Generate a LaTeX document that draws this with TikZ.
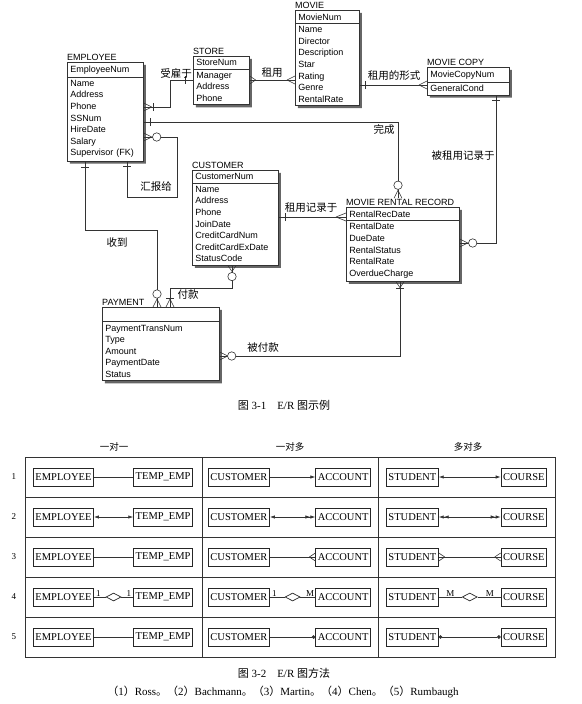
\documentclass[tikz,border=0pt]{standalone}
\usepackage{fontspec}
\setmainfont{Liberation Serif}
\newfontfamily\erfont{Liberation Sans}
\newfontfamily\cjk{Noto Sans CJK SC}
\newcommand\zh[1]{{\cjk #1}}
\usetikzlibrary{arrows.meta,positioning,calc,shapes.multipart,shapes.geometric,shadows}
\tikzset{
  entity/.style ={rectangle split,rectangle split parts=2,draw=black!80,fill=white,
                  line width=0.7pt,inner xsep=3pt,inner ysep=2.8pt,align=left,anchor=north west,
                  font=\erfont\fontsize{9}{11.6}\selectfont,
                  drop shadow={shadow xshift=2.6pt,shadow yshift=-2.6pt,fill=black!60,opacity=1}},
  ename/.style  ={font=\erfont\fontsize{9}{10}\selectfont,inner xsep=0pt,inner ysep=1pt,anchor=south west},
  rel/.style    ={draw=black!80,line width=0.6pt},
  rlabel/.style ={font=\cjk\fontsize{10.5}{10.5}\selectfont,inner sep=0pt},
  pics/crowfoot/.style={code={\draw[rel] (-#1,0) -- (0,-4) (-#1,0) -- (0,4);}},
  pics/crowfoot/.default=8,
  pics/onebar/.style={code={\draw[rel] (-#1,-4) -- (-#1,4);}},
  pics/zeroring/.style={code={\draw[rel,fill=white] (-#1,0) circle[radius=4.2];}},
  tbox/.style   ={draw=black!85,line width=0.9pt,font=\fontsize{10.5}{10.5}\selectfont,
                  minimum height=18pt,inner xsep=2pt,inner ysep=0pt},
  tabline/.style={draw=black!80,line width=0.7pt},
  thead/.style  ={font=\cjk\fontsize{9.5}{10}\selectfont,inner sep=0pt},
  rnum/.style   ={font=\fontsize{9}{10}\selectfont,inner sep=0pt},
  card/.style   ={font=\fontsize{9}{9}\selectfont,inner sep=0.5pt},
  rhomb/.style  ={diamond,draw=black!85,line width=0.7pt,minimum width=15pt,minimum height=8pt,inner sep=0pt},
  caption/.style={font=\fontsize{11}{12}\selectfont,inner sep=0pt},
  ahead/.tip={Latex[length=5pt,width=3.4pt]},
  rdot/.tip={Circle[length=3.6pt]},
}
\begin{document}
\begin{tikzpicture}[x=1pt,y=-1pt]
  \useasboundingbox (0,0) rectangle (581,704);
  % E/R example
  \node[entity,text width=70pt] (employee) at (67,62)
    {EmployeeNum\nodepart{two}Name\\Address\\Phone\\SSNum\\HireDate\\Salary\\Supervisor (FK)};
  \node[entity,text width=50pt] (store) at (193,56)
    {StoreNum\nodepart{two}Manager\\Address\\Phone};
  \node[entity,text width=58pt] (movie) at (295,10)
    {MovieNum\nodepart{two}Name\\Director\\Description\\Star\\Rating\\Genre\\RentalRate};
  \node[entity,text width=76pt] (mcopy) at (427,67)
    {MovieCopyNum\nodepart{two}GeneralCond};
  \node[entity,text width=80pt] (customer) at (192,170)
    {CustomerNum\nodepart{two}Name\\Address\\Phone\\JoinDate\\CreditCardNum\\CreditCardExDate\\StatusCode};
  \node[entity,text width=107pt] (rental) at (346,207)
    {RentalRecDate\nodepart{two}RentalDate\\DueDate\\RentalStatus\\RentalRate\\OverdueCharge};
  \node[entity,text width=111pt] (payment) at (102,307)
    {\vphantom{Ay}\nodepart{two}PaymentTransNum\\Type\\Amount\\PaymentDate\\Status};
  \foreach \n/\t in {employee/EMPLOYEE,store/STORE,movie/MOVIE,mcopy/MOVIE COPY,
                     customer/CUSTOMER,rental/MOVIE RENTAL RECORD,payment/PAYMENT}
     \node[ename] (\n-name) at (\n.north west) {\t};
  % relationships
  \draw[rel] (employee.east |- 0,107) pic[rotate=180]{crowfoot} pic[rotate=180]{onebar=10}
     -| (170,80) -- (store.west |- 0,80) pic{onebar=8};
  \draw[rel] (store.east |- 0,80) pic[rotate=180]{crowfoot=6} -- (movie.west |- 0,80) pic{crowfoot};
  \draw[rel] (movie.east |- 0,85) pic[rotate=180]{onebar=6} -- (mcopy.west |- 0,85) pic{crowfoot};
  \draw[rel] (employee.east |- 0,122) pic[rotate=180]{onebar=7}
     -| (rental-name.north -| 398,0) pic[rotate=-90]{crowfoot} pic[rotate=-90]{zeroring=13};
  \draw[rel] (employee.east |- 0,137) pic[rotate=180]{crowfoot} pic[rotate=180]{zeroring=13}
     -| (177,197) -| (employee.south -| 127,0) pic[rotate=90]{onebar=5};
  \draw[rel] (employee.south -| 85,0) pic[rotate=90]{onebar=6}
     |- (157,230) -- (payment.north -| 157,0) pic[rotate=-90]{crowfoot} pic[rotate=-90]{zeroring=13};
  \draw[rel] (customer.south -| 232,0) pic[rotate=90]{crowfoot=6} pic[rotate=90]{zeroring=11}
     |- (170,288) -- (payment.north -| 170,0) pic[rotate=-90]{crowfoot} pic[rotate=-90]{onebar=9};
  \draw[rel] (customer.east |- 0,217) pic[rotate=180]{onebar=7} -- (rental.west |- 0,217) pic{crowfoot=10};
  \draw[rel] (mcopy.south -| 496,0) pic[rotate=90]{onebar=5}
     |- (rental.east |- 0,243) pic[rotate=180]{crowfoot} pic[rotate=180]{zeroring=13};
  \draw[rel] (rental.south -| 400,0) pic[rotate=90]{crowfoot=6} pic[rotate=90]{onebar=7}
     |- (payment.east |- 0,356) pic[rotate=180]{crowfoot} pic[rotate=180]{zeroring=12};
  \foreach \t/\x/\y [count=\i] in {受雇于/176/73,租用/272/73,租用的形式/394/76,完成/384/129,
        汇报给/156/187,收到/117/243,付款/188/295,租用记录于/311/208,被租用记录于/463/156,被付款/263/348}
     \node[rlabel] (lab\i) at (\x,\y) {\t};
  \node[caption] (cap1) at (284,405) {\zh{图} 3-1\quad E/R \zh{图示例}};
  % notation table
  \draw[tabline] (25,457) rectangle (555,657);
  \foreach \y in {497,537,577,617} \draw[tabline] (25,\y) -- (555,\y);
  \foreach \x in {202,378} \draw[tabline] (\x,457) -- (\x,657);
  \node[thead] (h1) at (114,447) {一对一};
  \node[thead] (h2) at (290,447) {一对多};
  \node[thead] (h3) at (468,447) {多对多};
  \foreach \r/\y in {1/477,2/517,3/557,4/597,5/637}{
     \node[rnum] (n\r) at (14,\y) {\r};
     \node[tbox,anchor=west] (emp\r) at (33,\y) {EMPLOYEE};
     \node[tbox,anchor=east] (tmp\r) at (193,\y) {TEMP\_EMP};
     \node[tbox,anchor=west] (cus\r) at (208,\y) {CUSTOMER};
     \node[tbox,anchor=east] (acc\r) at (371,\y) {ACCOUNT};
     \node[tbox,anchor=west] (stu\r) at (386,\y) {STUDENT};
     \node[tbox,anchor=east] (crs\r) at (547,\y) {COURSE};
  }
  % (1) Ross
  \draw[tabline] (emp1) -- (tmp1);
  \draw[tabline,-{ahead}] (cus1) -- (acc1);
  \draw[tabline,{ahead}-{ahead}] (stu1) -- (crs1);
  % (2) Bachmann
  \draw[tabline,{ahead}-{ahead}] (emp2) -- (tmp2);
  \draw[tabline,{ahead}-{ahead[]ahead[]}] (cus2) -- (acc2);
  \draw[tabline,{ahead[]ahead[]}-{ahead[]ahead[]}] (stu2) -- (crs2);
  % (3) Martin
  \draw[tabline] (emp3) -- (tmp3);
  \draw[tabline] (cus3.east) -- (acc3.west) pic{crowfoot=6};
  \draw[tabline] (stu3.east) pic[rotate=180]{crowfoot=6} -- (crs3.west) pic{crowfoot=6};
  % (4) Chen
  \node[rhomb] (dm1) at ($(emp4.east)!0.5!(tmp4.west)$) {};
  \node[rhomb] (dm2) at ($(cus4.east)!0.5!(acc4.west)$) {};
  \node[rhomb] (dm3) at ($(stu4.east)!0.5!(crs4.west)$) {};
  \draw[tabline] (emp4) -- (dm1) -- (tmp4);
  \draw[tabline] (cus4) -- (dm2) -- (acc4);
  \draw[tabline] (stu4) -- (dm3) -- (crs4);
  \node[card,above right=0pt and 1.5pt of emp4.east] (k1) {1};
  \node[card,above left=0pt and 1.5pt of tmp4.west] (k2) {1};
  \node[card,above right=0pt and 1.5pt of cus4.east] (k3) {1};
  \node[card,above left=0pt and 0.5pt of acc4.west] (k4) {M};
  \node[card,above right=0pt and 7pt of stu4.east] (k5) {M};
  \node[card,above left=0pt and 6pt of crs4.west] (k6) {M};
  % (5) Rumbaugh
  \draw[tabline] (emp5) -- (tmp5);
  \draw[tabline,-{rdot}] (cus5) -- (acc5);
  \draw[tabline,{rdot}-{rdot}] (stu5) -- (crs5);
  \node[caption] (cap2) at (284,673) {\zh{图} 3-2\quad E/R \zh{图方法}};
  \node[caption] (cap3) at (283,692) {\zh{（}1\zh{）}Ross\zh{。（}2\zh{）}Bachmann\zh{。（}3\zh{）}Martin\zh{。（}4\zh{）}Chen\zh{。（}5\zh{）}Rumbaugh};
\end{tikzpicture}
\end{document}
